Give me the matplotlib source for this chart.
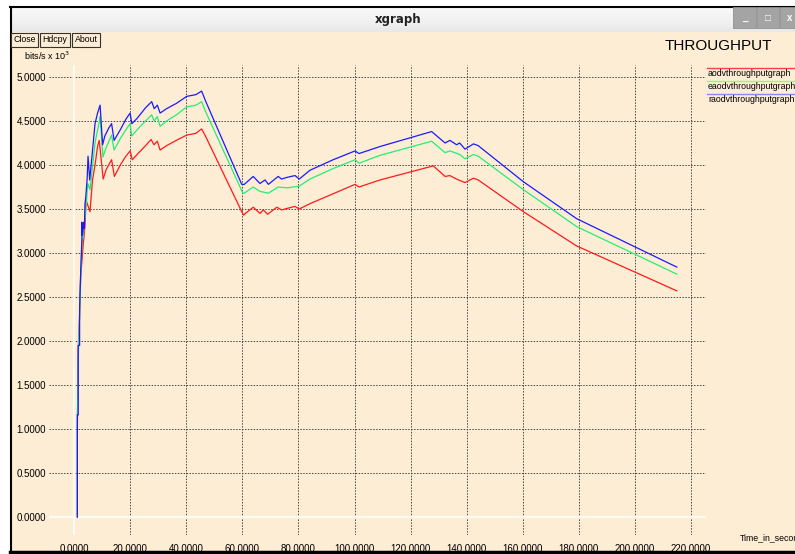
import numpy as np
import matplotlib
matplotlib.use("Agg")
import matplotlib.pyplot as plt
from matplotlib.patches import Rectangle

plt.rcParams['font.family'] = ['Liberation Sans', 'DejaVu Sans']

W, H = 795, 554

# tick values
xticks = [0, 20, 40, 60, 80, 100, 120, 140, 160, 180, 200, 220]
yticks = [0.0, 0.5, 1.0, 1.5, 2.0, 2.5, 3.0, 3.5, 4.0, 4.5, 5.0]

# aodv (red)
t_aodv = [1.2, 1.2, 1.5, 2.0, 2.4, 2.8, 3.3, 3.9, 4.3, 5.7, 6.6, 7.5, 8.4, 9.0,
          10.4, 11.5, 13.4, 14.4, 16.5, 18.5, 20.0, 20.8, 22.5, 25.5, 27.5, 28.5,
          29.7, 30.7, 33.0, 36.5, 40.2, 43.5, 45.5, 47.0, 60.4, 60.7, 63.9, 66.3,
          67.5, 69.0, 72.3, 74.0, 78.8, 80.3, 84.1, 100.2, 101.6, 109.1, 128.1,
          132.3, 134.0, 136.4, 139.4, 142.4, 144.1, 160.2, 179.2, 214.9]
v_aodv = [0.0, 1.0, 1.9, 2.3, 2.75, 2.9, 3.1, 3.3, 3.6, 3.47, 3.83, 4.0, 4.21, 4.28,
          3.84, 3.95, 4.06, 3.87, 4.0, 4.10, 4.16, 4.06, 4.12, 4.22, 4.29, 4.23,
          4.27, 4.17, 4.22, 4.28, 4.34, 4.36, 4.41, 4.32, 3.43, 3.44, 3.52, 3.45,
          3.49, 3.44, 3.52, 3.49, 3.53, 3.50, 3.56, 3.78, 3.75, 3.83, 3.99,
          3.87, 3.88, 3.84, 3.80, 3.85, 3.83, 3.47, 3.08, 2.57]

# eaodv (green)
t_eaodv = [1.2, 1.2, 1.6, 2.0, 2.4, 2.8, 3.3, 3.9, 4.5, 4.9, 5.7, 6.5, 7.5, 8.4,
           9.0, 9.3, 10.3, 11.5, 13.4, 14.3, 16.5, 18.5, 20.0, 20.6, 22.5, 25.5,
           27.7, 28.6, 29.7, 30.7, 33.0, 36.5, 40.2, 43.5, 45.5, 47.0, 60.2, 60.7,
           63.9, 66.3, 69.3, 72.8, 76.0, 80.3, 84.1, 92.4, 100.2, 101.6, 109.1,
           127.5, 132.3, 134.0, 137.5, 139.4, 142.4, 144.1, 160.2, 179.2, 214.9]
v_eaodv = [0.0, 1.1, 1.9, 2.3, 2.75, 3.1, 3.2, 3.4, 3.6, 3.79, 3.72, 3.95, 4.25, 4.40,
           4.49, 4.55, 4.09, 4.2, 4.34, 4.17, 4.30, 4.40, 4.47, 4.33, 4.40, 4.50,
           4.57, 4.50, 4.55, 4.44, 4.50, 4.57, 4.66, 4.68, 4.72, 4.60, 3.68, 3.68,
           3.75, 3.70, 3.68, 3.75, 3.74, 3.76, 3.84, 3.96, 4.06, 4.02, 4.11,
           4.27, 4.14, 4.16, 4.12, 4.07, 4.12, 4.10, 3.72, 3.30, 2.76]

# raodv (blue)
t_raodv = [1.2, 1.2, 1.5, 1.5, 2.0, 2.0, 2.4, 2.8, 2.8, 3.0, 3.5, 3.7, 3.9, 4.2,
           4.7, 5.0, 5.6, 6.5, 7.5, 8.4, 9.3, 10.2, 11.0, 12.4, 13.4, 14.3, 16.5,
           18.5, 20.0, 20.6, 22.5, 25.5, 27.7, 28.6, 29.7, 30.7, 33.0, 36.5, 40.2,
           43.5, 45.5, 47.0, 59.8, 60.7, 63.9, 66.3, 68.1, 69.3, 72.8, 74.0, 76.0,
           78.8, 80.3, 84.1, 92.4, 100.2, 101.6, 109.1, 127.5, 132.3, 134.0, 136.4,
           137.5, 139.4, 142.4, 144.1, 160.2, 179.2, 214.9]
v_raodv = [0.0, 1.16, 1.16, 1.95, 1.95, 2.37, 2.8, 3.15, 3.35, 3.2, 3.35, 3.28, 3.55, 3.64,
           3.85, 4.10, 3.83, 4.13, 4.47, 4.59, 4.68, 4.23, 4.33, 4.42, 4.47, 4.28, 4.40,
           4.52, 4.59, 4.47, 4.53, 4.65, 4.72, 4.64, 4.68, 4.59, 4.64, 4.70, 4.78,
           4.80, 4.84, 4.72, 3.78, 3.78, 3.87, 3.79, 3.83, 3.78, 3.87, 3.84, 3.86,
           3.88, 3.84, 3.94, 4.06, 4.16, 4.13, 4.21, 4.38, 4.25, 4.28, 4.23,
           4.25, 4.18, 4.24, 4.22, 3.81, 3.39, 2.84]

names = ["aodvthroughputgraph", "eaodvthroughputgraph", "raodvthroughputgraph"]
colors = ["#ff1a1a", "#22ee77", "#1a1aff"]
legend_colors = ["#ff4040", "#80ff90", "#8888ff"]

bg = "#fdedd4"


def fx(x):
    return x / W


def fy(y):
    return 1 - y / H


fig = plt.figure(figsize=(W / 100, H / 100), dpi=100)
fig.patch.set_facecolor("white")

# window body
fig.patches.append(Rectangle((fx(10), fy(551)), fx(W - 10), (551 - 7) / H,
                             transform=fig.transFigure, facecolor=bg,
                             edgecolor="none", zorder=-5))
# black frame
fig.add_artist(plt.Line2D([fx(10), fx(W)], [fy(6.5), fy(6.5)], color="black", lw=1.5))
fig.add_artist(plt.Line2D([fx(10.5), fx(10.5)], [fy(6.5), fy(552)], color="black", lw=1.5))
fig.add_artist(plt.Line2D([fx(10), fx(W)], [fy(552), fy(552)], color="black", lw=2.5))

# title bar gradient (light grey)
tb = fig.add_axes([fx(11), fy(32), fx(W - 11), 25 / H])
grad = np.linspace(0.05, 0.17, 50).reshape(-1, 1)
tb.imshow(grad, aspect="auto", cmap="Greys", vmin=0, vmax=1, extent=[0, 1, 0, 1])
tb.set_axis_off()
fig.text(fx(398), fy(20), "xgraph", ha="center", va="center", fontsize=8.5,
         family=["DejaVu Sans"], weight="bold", color="#222222")

# window control buttons
for x0, x1, s in [(733, 756, "_"), (757, 779, "\u25a1"), (780, 800, "x")]:
    fig.patches.append(Rectangle((fx(x0), fy(28)), (x1 - x0) / W, 21 / H,
                                 transform=fig.transFigure, facecolor="#a4a4a4",
                                 edgecolor="#909090", lw=0.6, zorder=3))
    fig.text(fx((x0 + x1) / 2), fy(18), s, ha="center", va="center",
             fontsize=7, color="white", weight="bold", zorder=4)

# xgraph buttons
for x0, x1, s in [(11, 38, "Close"), (40, 70, "Hdcpy"), (72, 100, "About")]:
    fig.patches.append(Rectangle((fx(x0), fy(47)), (x1 - x0) / W, 14 / H,
                                 transform=fig.transFigure, facecolor=bg,
                                 edgecolor="#333333", lw=0.8, zorder=3))
    fig.text(fx((x0 + x1) / 2), fy(40), s, ha="center", va="center",
             fontsize=6.3, color="black", zorder=4)

# plot area
ax = fig.add_axes([fx(49), fy(535), (706 - 49) / W, (535 - 65) / H])
ax.set_facecolor(bg)
for sp in ax.spines.values():
    sp.set_visible(False)
ax.set_xlim((49 - 74) / 2.805, (706 - 74) / 2.805)
ax.set_ylim((517 - 535) / 88, (517 - 65) / 88)

ax.set_xticks(xticks)
ax.set_xticklabels([f"{t:.4f}" for t in xticks])
ax.set_yticks(yticks)
ax.set_yticklabels([f"{v:.4f}" for v in yticks])
ax.tick_params(length=0, labelsize=7, colors="black")
ax.tick_params(axis="x", pad=6.5)
ax.tick_params(axis="y", pad=2)
ax.set_axisbelow(True)
ax.grid(True, color="#444444", linestyle=(0, (1.5, 1.5)), lw=0.7)
ax.axvline(0, color="#fffaf2", lw=1.5, zorder=1.5)
ax.axhline(0, color="#fffaf2", lw=1.5, zorder=1.5)

ax.plot(t_aodv, v_aodv, color=colors[0], lw=0.9, zorder=3)
ax.plot(t_eaodv, v_eaodv, color=colors[1], lw=0.9, zorder=3)
ax.plot(t_raodv, v_raodv, color=colors[2], lw=0.9, zorder=3)

# legend, xgraph style
for i, (nm, c) in enumerate(zip(names, legend_colors)):
    ly = 68 + 13.2 * i
    fig.add_artist(plt.Line2D([fx(707), fx(W)], [fy(ly), fy(ly)], color=c, lw=1))
    fig.text(fx(708), fy(ly + 5), nm, ha="left", va="center", fontsize=6.3)

fig.text(fx(24), fy(56), r"bits/s x 10$^3$", ha="left", va="center", fontsize=6.5)
fig.text(fx(665), fy(46), "THROUGHPUT", ha="left", va="center", fontsize=11)
fig.text(fx(740), fy(538), "Time_in_seconds", ha="left", va="center", fontsize=6.3)

fig.savefig("out.png", dpi=100, facecolor="white")
